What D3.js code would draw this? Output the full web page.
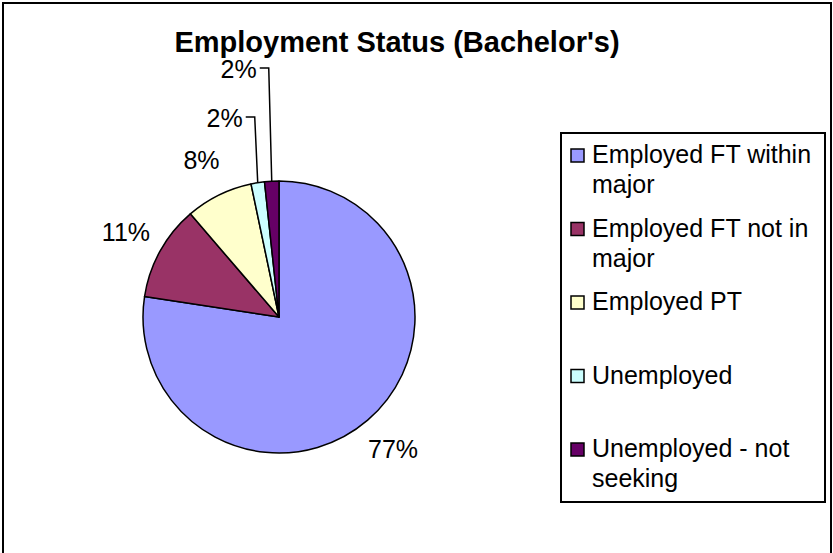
<!DOCTYPE html>
<html>
<head>
<meta charset="utf-8">
<script src="https://cdn.jsdelivr.net/npm/d3@7"></script>
<style>
  html, body { margin: 0; padding: 0; background: #fff; }
  svg { display: block; font-family: Arial, "Liberation Sans", sans-serif; }
</style>
</head>
<body>
<svg id="chart" width="833" height="553"></svg>
<script>
// ---- data ----
const title = "Employment Status (Bachelor's)";
const categories = [
  "Employed FT within major",
  "Employed FT not in major",
  "Employed PT",
  "Unemployed",
  "Unemployed - not seeking"
];
const values = [77.4, 11.3, 8.0, 1.6, 1.7];
const colors = ["#9999FF", "#993366", "#FFFFCC", "#CCFFFF", "#660066"];

// ---- layout ----
const cx = 279, cy = 317, r = 136;
const svg = d3.select("#chart");

// outer border
svg.append("rect")
  .attr("x", 3).attr("y", 3).attr("width", 828).attr("height", 570)
  .attr("fill", "none").attr("stroke", "#000").attr("stroke-width", 2);

// title
svg.append("text")
  .attr("x", 397).attr("y", 52)
  .attr("text-anchor", "middle")
  .attr("font-size", 29).attr("font-weight", "bold")
  .text(title);

// pie
const data = categories.map((c, i) => ({ name: c, value: values[i], color: colors[i] }));
const pie = d3.pie().sort(null).value(d => d.value).startAngle(0).endAngle(2 * Math.PI);
const arcs = pie(data);
const arc = d3.arc().innerRadius(0).outerRadius(r);
const total = d3.sum(values);
const fmt = v => Math.round(v / total * 100) + "%";

const g = svg.append("g").attr("transform", `translate(${cx},${cy})`);
g.selectAll("path").data(arcs).join("path")
  .attr("d", arc)
  .attr("fill", d => d.data.color)
  .attr("stroke", "#000").attr("stroke-width", 1.5)
  .attr("stroke-linejoin", "round");

// labels
const labelR = 175;
let smallIdx = 0;
arcs.forEach(d => {
  const mid = (d.startAngle + d.endAngle) / 2;
  const sx = Math.sin(mid), sy = -Math.cos(mid);
  const pct = (d.endAngle - d.startAngle) / (2 * Math.PI);
  if (pct > 0.03) {
    g.append("text")
      .attr("x", labelR * sx).attr("y", labelR * sy)
      .attr("dy", "0.35em")
      .attr("text-anchor", "middle")
      .attr("font-size", 25)
      .text(fmt(d.value));
  } else {
    const ax = r * sx, ay = r * sy;
    const topY = -r - 64 - smallIdx * 49;
    const topX = ax - 3;
    g.append("path")
      .attr("d", `M${ax},${ay}L${topX},${topY}L${ax - 12},${topY}`)
      .attr("fill", "none").attr("stroke", "#000").attr("stroke-width", 1.5);
    g.append("text")
      .attr("x", ax - 15).attr("y", topY + 10)
      .attr("text-anchor", "end")
      .attr("font-size", 25)
      .text(fmt(d.value));
    smallIdx++;
  }
});

// legend
const lg = svg.append("g");
lg.append("rect")
  .attr("x", 561).attr("y", 133).attr("width", 264).attr("height", 369)
  .attr("fill", "#fff").attr("stroke", "#000").attr("stroke-width", 2);

const rowY = d3.scalePoint().domain(categories).range([163, 457]);
const maxW = 228;
categories.forEach((c, i) => {
  const y = rowY(c);
  lg.append("rect")
    .attr("x", 571).attr("y", y - 14).attr("width", 13).attr("height", 13)
    .attr("fill", colors[i]).attr("stroke", "#000").attr("stroke-width", 1.5);
  const t = lg.append("text").attr("x", 592).attr("y", y).attr("font-size", 25);
  const words = c.split(" ");
  let line = [];
  let lineNo = 0;
  let tspan = t.append("tspan").attr("x", 592).attr("y", y);
  words.forEach(w => {
    line.push(w);
    tspan.text(line.join(" "));
    if (tspan.node().getComputedTextLength() > maxW && line.length > 1) {
      line.pop();
      tspan.text(line.join(" "));
      line = [w];
      lineNo++;
      tspan = t.append("tspan").attr("x", 592).attr("y", y + lineNo * 30).text(w);
    }
  });
});
</script>
</body>
</html>
